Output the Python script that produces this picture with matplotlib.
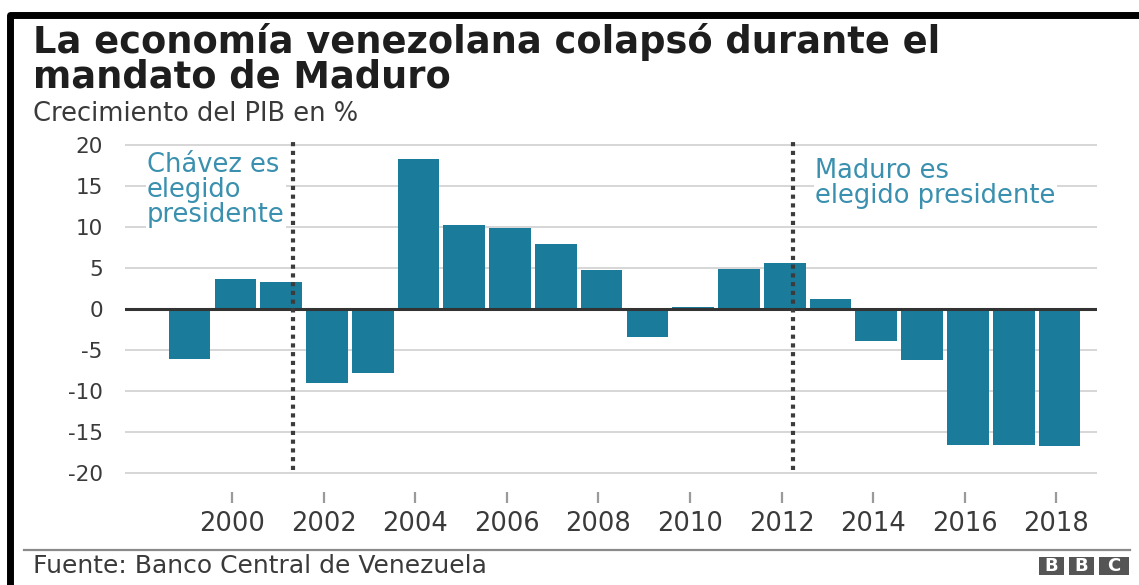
import matplotlib
matplotlib.use("Agg")
import matplotlib.pyplot as plt
from matplotlib.lines import Line2D
from matplotlib.patches import Rectangle

# GDP growth, Venezuela (%)
years = list(range(1999, 2019))
growth = [-6.1, 3.7, 3.3, -9.0, -7.8, 18.3, 10.2, 9.9, 8.0, 4.8,
          -3.4, 0.3, 4.9, 5.6, 1.2, -3.9, -6.2, -16.6, -16.6, -16.7]
xtick_years = list(range(2000, 2019, 2))
ytick_values = list(range(-20, 21, 5))
chavez_line_x = 2001.33
maduro_line_x = 2012.25

title = "La economía venezolana colapsó durante el\nmandato de Maduro"
subtitle = "Crecimiento del PIB en %"
source = "Fuente: Banco Central de Venezuela"
chavez_note = "Chávez es\nelegido\npresidente"
maduro_note = "Maduro es\nelegido presidente"

BAR = "#1b7b9b"
NOTE = "#3a90ae"
TXT = "#3a3a3a"
W, H = 1139, 585

plt.rcParams["font.family"] = ["DejaVu Sans"]
fig = plt.figure(figsize=(W / 100, H / 100), dpi=100)
fig.patch.set_facecolor("white")

def fx(px):
    return px / W

def fy(py):
    return 1 - py / H

ax = fig.add_axes([fx(125), fy(492), fx(1097) - fx(125), fy(141) - fy(492)])
ax.set_xlim(1997.66, 2018.89)
ax.set_ylim(-22.3, 20.5)
for s in ax.spines.values():
    s.set_visible(False)

for v in ytick_values:
    if v == 0:
        continue
    ax.axhline(v, color="#d6d6d6", lw=1.4, zorder=0)
ax.axhline(0, color="#333333", lw=2.2, zorder=3)

ax.bar([y + 0.07 for y in years], growth, width=0.91, color=BAR, zorder=2)

for xv in (chavez_line_x, maduro_line_x):
    ax.plot([xv, xv], [-19.6, 20.4], color="#3c3c3c", lw=3.0,
            linestyle=(0, (1, 1.1)), solid_capstyle="butt",
            dash_capstyle="butt", zorder=5)

ax.text(1998.14, 19.2, chavez_note, color=NOTE, fontsize=18.5, va="top",
        ha="left", linespacing=0.95, zorder=4,
        bbox=dict(facecolor="white", edgecolor="none", pad=1))
ax.text(2012.73, 18.4, maduro_note, color=NOTE, fontsize=18.5, va="top",
        ha="left", linespacing=0.95, zorder=4,
        bbox=dict(facecolor="white", edgecolor="none", pad=1))

ax.set_yticks(ytick_values)
ax.set_yticklabels([str(v) for v in ytick_values])
ax.tick_params(axis="y", length=0, pad=16, labelsize=15.5, labelcolor=TXT)
ax.set_xticks(xtick_years)
ax.set_xticklabels([str(v) for v in xtick_years])
ax.tick_params(axis="x", length=8, width=1.6, color="#9a9a9a", pad=6,
               labelsize=18.5, labelcolor=TXT)

fig.text(fx(33), fy(23), title, fontsize=26.5, fontweight="bold",
         color="#1e1e1e", va="top", ha="left", linespacing=0.9)
fig.text(fx(33), fy(121), subtitle, fontsize=18.5, color=TXT, va="baseline")
fig.text(fx(33), fy(573), source, fontsize=18, color=TXT, va="baseline")

fig.add_artist(Line2D([fx(24), fx(1130)], [fy(550), fy(550)],
                      color="#8a8a8a", lw=1.6))

# BBC blocks
for x0, x1, letter in ((1039, 1064, "B"), (1069, 1094, "B"), (1099, 1129, "C")):
    fig.add_artist(Rectangle((fx(x0), fy(575)), fx(x1) - fx(x0),
                             fy(557) - fy(575), facecolor="#555555",
                             edgecolor="none"))
    fig.text((fx(x0) + fx(x1)) / 2, (fy(557) + fy(575)) / 2, letter,
             fontsize=13, fontweight="bold", color="white",
             ha="center", va="center")

# frame on top and left
fig.add_artist(Line2D([fx(10), fx(10), fx(1139)], [fy(585), fy(15), fy(15)],
                      color="black", lw=5, solid_joinstyle="round"))

fig.savefig("out.png", dpi=100, facecolor="white")
